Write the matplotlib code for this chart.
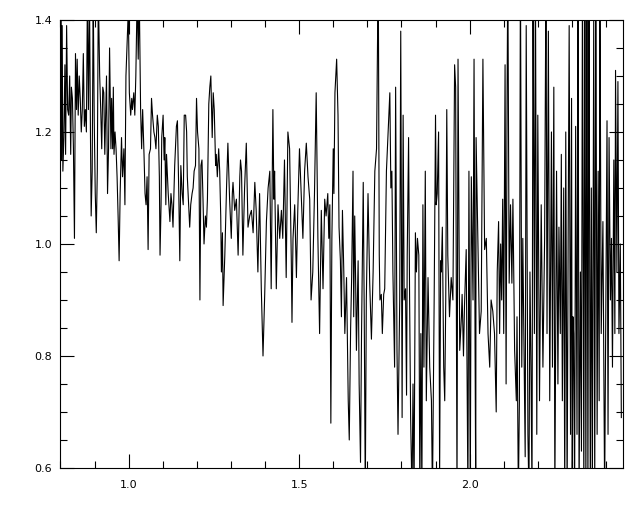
import matplotlib
matplotlib.use("Agg")
import matplotlib.pyplot as plt
from matplotlib.ticker import MultipleLocator

# wavelength / flux, left to right
wave = [
    0.802, 0.803, 0.805, 0.807, 0.810, 0.813, 0.815, 0.818, 0.821, 0.824,
    0.827, 0.830, 0.832, 0.835, 0.838, 0.841, 0.844, 0.847, 0.849, 0.852,
    0.855, 0.858, 0.861, 0.864, 0.867, 0.870, 0.873, 0.876, 0.879, 0.882,
    0.885, 0.888, 0.890, 0.893, 0.896, 0.899, 0.902, 0.905, 0.908, 0.911,
    0.915, 0.918, 0.921, 0.924, 0.927, 0.930, 0.933, 0.935, 0.938, 0.941,
    0.944,
    0.948, 0.950, 0.953, 0.955, 0.957, 0.960, 0.963, 0.966, 0.969, 0.972,
    0.975, 0.979, 0.982, 0.986, 0.989, 0.992, 0.996, 0.999, 1.002, 1.006,
    1.009, 1.011, 1.015, 1.018, 1.021, 1.025, 1.028, 1.031, 1.035, 1.038,
    1.041, 1.045, 1.048, 1.051, 1.054, 1.057, 1.060, 1.064, 1.067, 1.070,
    1.074, 1.077, 1.080, 1.084, 1.087, 1.090, 1.092, 1.095, 1.097, 1.101,
    1.104,
    1.106, 1.109, 1.111, 1.116, 1.121, 1.124, 1.127, 1.130, 1.135, 1.140,
    1.143, 1.147, 1.150, 1.153, 1.157, 1.160, 1.163, 1.167, 1.170, 1.172,
    1.176, 1.179, 1.182, 1.186, 1.189, 1.192, 1.196, 1.199, 1.202, 1.206,
    1.209, 1.212, 1.215, 1.218, 1.221, 1.225, 1.228, 1.231, 1.235, 1.238,
    1.241, 1.245, 1.248, 1.251, 1.255, 1.257, 1.260, 1.264,
    1.267, 1.270, 1.272, 1.275, 1.277, 1.282, 1.287, 1.291, 1.294, 1.296,
    1.301, 1.304, 1.306, 1.311, 1.316, 1.321, 1.326, 1.328, 1.331, 1.335,
    1.340, 1.345, 1.350, 1.355, 1.360, 1.365, 1.370, 1.374, 1.379, 1.384,
    1.389, 1.394, 1.399, 1.404, 1.409, 1.414, 1.418, 1.423, 1.426,
    1.428, 1.433, 1.438, 1.443, 1.448, 1.452, 1.457, 1.462, 1.467, 1.472,
    1.477, 1.479, 1.482, 1.487, 1.492, 1.496, 1.501, 1.506, 1.511, 1.516,
    1.521, 1.526, 1.531, 1.535, 1.540, 1.545, 1.550, 1.555, 1.560, 1.565,
    1.570, 1.575, 1.579, 1.584, 1.587,
    1.590, 1.593, 1.596, 1.600, 1.602, 1.605, 1.610, 1.614, 1.617, 1.621,
    1.624, 1.627, 1.631, 1.634, 1.639, 1.644, 1.647, 1.651, 1.654, 1.658,
    1.660, 1.663, 1.666, 1.668, 1.673, 1.676, 1.680, 1.683, 1.688, 1.691,
    1.694, 1.697, 1.702, 1.707, 1.712, 1.717, 1.722, 1.727, 1.732, 1.735,
    1.737, 1.741, 1.744, 1.748,
    1.751, 1.756, 1.761, 1.766, 1.769, 1.772, 1.775, 1.780, 1.783, 1.787,
    1.790, 1.795, 1.798, 1.802, 1.805, 1.808, 1.812, 1.815, 1.817, 1.821,
    1.824, 1.827, 1.831, 1.834, 1.837, 1.841, 1.844, 1.847, 1.851, 1.854,
    1.857, 1.860, 1.863, 1.866, 1.870, 1.873, 1.878, 1.883, 1.888, 1.891,
    1.896, 1.900, 1.902, 1.905, 1.909,
    1.912, 1.915, 1.917, 1.920, 1.924, 1.927, 1.930, 1.933, 1.936, 1.941,
    1.946, 1.951, 1.956, 1.959, 1.963, 1.966, 1.971, 1.976, 1.978, 1.982,
    1.985, 1.990, 1.995, 1.998, 2.002, 2.005, 2.010, 2.013, 2.016, 2.018,
    2.019, 2.024, 2.029, 2.034, 2.039, 2.044, 2.049, 2.054, 2.059, 2.063,
    2.068,
    2.073, 2.078, 2.081, 2.085, 2.088, 2.091, 2.094, 2.097, 2.100, 2.104,
    2.107, 2.110, 2.112, 2.116, 2.120, 2.124, 2.127, 2.132, 2.137, 2.139,
    2.143, 2.146, 2.149, 2.153, 2.156, 2.159, 2.163, 2.166, 2.171, 2.174,
    2.177, 2.180, 2.183, 2.186, 2.190, 2.193, 2.197, 2.200, 2.205, 2.210,
    2.215, 2.220, 2.224, 2.227, 2.231,
    2.235, 2.240, 2.243, 2.247, 2.250, 2.255, 2.259, 2.262, 2.266, 2.269,
    2.272, 2.276, 2.279, 2.282, 2.286, 2.289, 2.292, 2.296, 2.299, 2.301,
    2.303, 2.305, 2.308, 2.311, 2.315, 2.318, 2.321, 2.325, 2.328, 2.331,
    2.335, 2.338, 2.341, 2.344, 2.347, 2.350, 2.354, 2.357, 2.360, 2.364,
    2.367, 2.370, 2.374, 2.377, 2.380, 2.382, 2.386, 2.391, 2.396, 2.399,
    2.403, 2.406, 2.409, 2.413, 2.416, 2.419, 2.423, 2.426, 2.428, 2.432,
    2.435, 2.438, 2.442, 2.445,
]

flux = [
    1.40, 1.15, 1.39, 1.13, 1.19, 1.32, 1.16, 1.39, 1.24, 1.23,
    1.30, 1.16, 1.28, 1.26, 1.17, 1.01, 1.34, 1.24, 1.33, 1.23,
    1.30, 1.26, 1.20, 1.24, 1.34, 1.21, 1.24, 1.20, 1.45, 1.24,
    1.45, 1.19, 1.05, 1.13, 1.45, 1.22, 1.09, 1.02, 1.13, 1.45,
    1.30, 1.24, 1.17, 1.28, 1.27, 1.16, 1.24, 1.30, 1.09, 1.17,
    1.35,
    1.17, 1.26, 1.17, 1.28, 1.16, 1.20, 1.17, 1.12, 1.05, 0.97,
    1.09, 1.19, 1.12, 1.17, 1.07, 1.30, 1.37, 1.42, 1.27, 1.23,
    1.26, 1.24, 1.27, 1.23, 1.30, 1.45, 1.33, 1.45, 1.24, 1.17,
    1.24, 1.16, 1.09, 1.07, 1.12, 0.99, 1.16, 1.17, 1.26, 1.23,
    1.20, 1.19, 1.17, 1.23, 1.21, 1.12, 0.98, 1.07, 1.19, 1.23,
    1.15,
    1.19, 1.07, 1.16, 1.09, 1.04, 1.09, 1.07, 1.03, 1.14, 1.21,
    1.22, 1.09, 0.97, 1.14, 1.09, 1.07, 1.23, 1.23, 1.20, 1.12,
    1.07, 1.03, 1.07, 1.09, 1.10, 1.13, 1.14, 1.26, 1.20, 1.17,
    0.90, 1.14, 1.15, 1.08, 1.00, 1.05, 1.03, 1.08, 1.25, 1.28,
    1.30, 1.19, 1.27, 1.24, 1.14, 1.16, 1.12, 1.17,
    1.13, 1.05, 0.95, 1.02, 0.89, 0.98, 1.10, 1.18, 1.12, 1.08,
    1.01, 1.09, 1.11, 1.06, 1.08, 0.98, 1.12, 1.15, 1.13, 0.98,
    1.10, 1.18, 1.03, 1.05, 1.06, 1.02, 1.11, 1.06, 0.95, 1.09,
    0.92, 0.80, 0.91, 1.04, 1.10, 1.13, 0.92, 1.24, 1.08,
    1.13, 0.92, 1.07, 1.01, 1.06, 1.01, 1.15, 0.94, 1.20, 1.17,
    0.97, 0.86, 1.01, 1.07, 0.94, 1.06, 1.17, 1.09, 1.01, 1.13,
    1.18, 1.12, 1.08, 0.90, 0.95, 1.09, 1.27, 1.01, 0.84, 1.06,
    0.92, 1.08, 1.05, 1.09, 1.01,
    1.07, 0.68, 1.01, 1.17, 1.09, 1.27, 1.33, 1.23, 1.03, 0.97,
    0.87, 1.06, 0.95, 0.84, 0.94, 0.72, 0.65, 0.85, 0.94, 1.13,
    0.87, 1.05, 0.92, 0.81, 0.97, 0.75, 0.61, 0.84, 1.11, 0.87,
    0.55, 0.90, 1.09, 0.93, 0.83, 0.95, 1.13, 1.17, 1.50, 0.98,
    0.90, 0.91, 0.84, 0.91,
    0.92, 1.13, 1.20, 1.27, 1.10, 1.13, 0.95, 0.78, 1.28, 0.81,
    0.66, 0.90, 1.38, 0.69, 1.23, 0.90, 0.92, 0.73, 0.98, 1.19,
    0.90, 0.69, 0.55, 0.75, 0.55, 1.02, 0.95, 1.01, 0.98, 0.55,
    0.84, 0.55, 1.07, 0.78, 1.13, 0.72, 0.94, 0.78, 0.72, 0.55,
    0.90, 1.23, 1.07, 1.09, 1.20,
    0.58, 0.97, 0.95, 1.03, 0.78, 0.72, 0.90, 1.24, 0.98, 0.87,
    0.94, 0.90, 1.32, 1.28, 0.55, 1.33, 0.81, 0.87, 0.91, 0.80,
    0.89, 0.99, 0.55, 1.13, 0.55, 1.12, 0.90, 1.33, 0.82, 0.55,
    1.19, 1.01, 0.84, 0.88, 1.33, 0.99, 1.01, 0.84, 0.78, 0.90,
    0.88,
    0.84, 0.70, 0.95, 1.04, 0.84, 1.00, 0.90, 1.08, 0.84, 1.32,
    0.75, 1.27, 1.50, 0.93, 1.07, 0.93, 1.08, 0.81, 0.72, 0.87,
    0.55, 0.72, 1.50, 0.78, 1.01, 0.84, 0.62, 1.39, 0.66, 0.55,
    0.95, 0.78, 0.55, 1.50, 0.84, 1.50, 0.66, 1.23, 0.72, 1.07,
    0.78, 1.01, 1.50, 0.84, 1.38,
    0.72, 1.20, 0.78, 1.28, 0.55, 1.13, 0.75, 1.03, 0.84, 1.16,
    0.72, 1.10, 0.55, 1.20, 0.55, 1.01, 1.39, 0.66, 1.26, 0.55,
    0.87, 0.84, 0.55, 1.21, 0.66, 1.50, 0.55, 0.95, 0.63, 1.50,
    0.55, 1.50, 0.55, 1.50, 0.55, 1.50, 0.55, 1.10, 0.55, 1.40,
    0.55, 1.50, 0.66, 1.13, 0.72, 1.50, 0.84, 1.04, 0.55, 0.84,
    1.22, 0.66, 1.19, 0.90, 1.01, 0.78, 1.15, 0.84, 1.31, 0.95,
    1.29, 0.84, 1.00, 0.69,
]

x_major = [1.0, 1.5, 2.0]
x_labels = ["1.0", "1.5", "2.0"]
y_major = [0.6, 0.8, 1.0, 1.2, 1.4]
y_labels = ["0.6", "0.8", "1.0", "1.2", "1.4"]

fig = plt.figure(figsize=(6.4, 5.12), dpi=100)
ax = fig.add_axes([0.0945, 0.086, 0.879, 0.875])

ax.plot(wave, flux, color="black", linewidth=0.8)

ax.set_xlim(0.8, 2.45)
ax.set_ylim(0.6, 1.4)

ax.set_xticks(x_major)
ax.set_xticklabels(x_labels)
ax.set_yticks(y_major)
ax.set_yticklabels(y_labels)
ax.xaxis.set_minor_locator(MultipleLocator(0.1))
ax.yaxis.set_minor_locator(MultipleLocator(0.05))

ax.tick_params(which="both", direction="in", top=True, right=True,
               labelsize=8, colors="black", width=0.8)
ax.tick_params(which="major", length=10, pad=6)
ax.tick_params(which="minor", length=5)
ax.tick_params(axis="x", which="major", pad=9)

for s in ax.spines.values():
    s.set_linewidth(0.8)

fig.savefig("out.png", dpi=100, facecolor="white")
